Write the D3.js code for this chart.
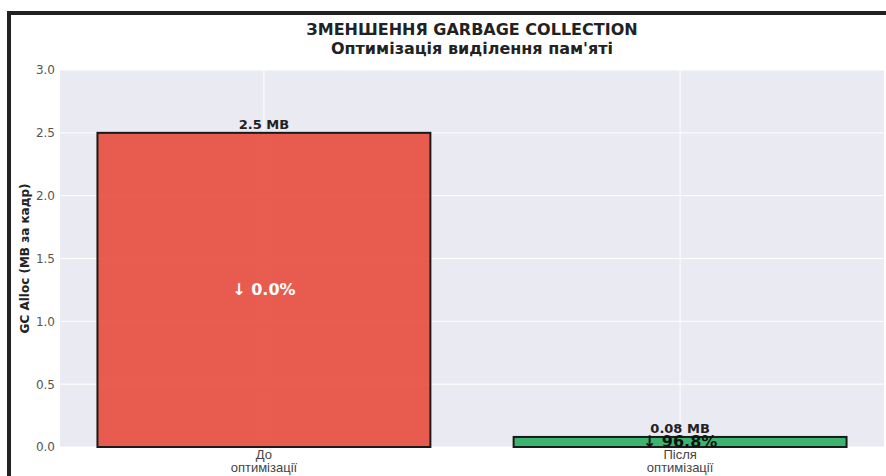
<!DOCTYPE html>
<html lang="uk">
<head>
  <meta charset="UTF-8" />
  <title>Зменшення Garbage Collection</title>
  <script src="https://d3js.org/d3.v7.min.js"></script>
  <style>
    html, body {
      margin: 0;
      padding: 0;
      background: #fff;
      overflow: hidden;
      font-family: "DejaVu Sans", sans-serif;
    }
  </style>
</head>
<body>
  <div id="chart"></div>

  <script>
    // ---- data ----
    const categories = ["До\nоптимізації", "Після\nоптимізації"];
    const gcAlloc = [2.5, 0.08];              // MB per frame
    const valueLabels = ["2.5 MB", "0.08 MB"];
    const reduction = ["↓ 0.0%", "↓ 96.8%"];
    const barColors = ["#e74c3c", "#27ae60"];
    const yTicks = [0, 0.5, 1.0, 1.5, 2.0, 2.5, 3.0];

    const width = 886, height = 476;
    const margin = { top: 70, right: 2, bottom: 29, left: 60 };
    const innerW = width - margin.left - margin.right;
    const innerH = height - margin.top - margin.bottom;

    const svg = d3.select("#chart")
      .append("svg")
      .attr("width", width)
      .attr("height", height);

    // figure frame (only top and left edge are visible in the crop)
    svg.append("path")
      .attr("d", "M9,480 L9,13 L890,13")
      .attr("fill", "none")
      .attr("stroke", "#222")
      .attr("stroke-width", 4);

    const g = svg.append("g")
      .attr("transform", `translate(${margin.left},${margin.top})`);

    const x = d3.scaleBand()
      .domain(categories)
      .range([0, innerW])
      .paddingInner(0.2)
      .paddingOuter(0.09);

    const y = d3.scaleLinear()
      .domain([0, 3.0])
      .range([innerH, 0]);

    // plot background
    g.append("rect")
      .attr("width", innerW)
      .attr("height", innerH)
      .attr("fill", "#eaeaf2");

    // grid lines
    g.selectAll(".hgrid")
      .data(yTicks)
      .enter()
      .append("line")
      .attr("x1", 0)
      .attr("x2", innerW)
      .attr("y1", d => y(d))
      .attr("y2", d => y(d))
      .attr("stroke", "#fff")
      .attr("stroke-width", 1);

    g.selectAll(".vgrid")
      .data(categories)
      .enter()
      .append("line")
      .attr("x1", d => x(d) + x.bandwidth() / 2)
      .attr("x2", d => x(d) + x.bandwidth() / 2)
      .attr("y1", 0)
      .attr("y2", innerH)
      .attr("stroke", "#fff")
      .attr("stroke-width", 1);

    // bars
    g.selectAll(".bar")
      .data(gcAlloc)
      .enter()
      .append("rect")
      .attr("x", (d, i) => x(categories[i]))
      .attr("y", d => y(d))
      .attr("width", x.bandwidth())
      .attr("height", d => innerH - y(d))
      .attr("fill", (d, i) => barColors[i])
      .attr("fill-opacity", 0.9)
      .attr("stroke", "#1a1a1a")
      .attr("stroke-width", 2);

    // value labels above bars
    g.selectAll(".vlabel")
      .data(gcAlloc)
      .enter()
      .append("text")
      .attr("x", (d, i) => x(categories[i]) + x.bandwidth() / 2)
      .attr("y", d => y(d) - 4)
      .attr("text-anchor", "middle")
      .attr("font-size", 13)
      .attr("font-weight", "bold")
      .attr("fill", "#222")
      .text((d, i) => valueLabels[i]);

    // reduction labels inside bars
    g.selectAll(".rlabel")
      .data(gcAlloc)
      .enter()
      .append("text")
      .attr("x", (d, i) => x(categories[i]) + x.bandwidth() / 2)
      .attr("y", d => y(d / 2))
      .attr("dy", "0.33em")
      .attr("text-anchor", "middle")
      .attr("font-size", 16)
      .attr("font-weight", "bold")
      .attr("fill", (d, i) => i === 0 ? "#fff" : "#111")
      .text((d, i) => reduction[i]);

    // y axis
    const yAxis = g.append("g")
      .call(d3.axisLeft(y).tickValues(yTicks).tickFormat(d3.format(".1f")).tickSize(0).tickPadding(5));
    yAxis.select(".domain").remove();
    yAxis.selectAll("text").attr("font-size", 12).attr("fill", "#555").attr("font-family", "DejaVu Sans");

    // x axis (two-line labels)
    const xAxis = g.append("g")
      .attr("transform", `translate(0,${innerH})`)
      .call(d3.axisBottom(x).tickSize(0).tickFormat(""));
    xAxis.select(".domain").remove();
    xAxis.selectAll(".tick").each(function (d) {
      const t = d3.select(this).append("text")
        .attr("text-anchor", "middle")
        .attr("font-size", 13)
        .attr("fill", "#444")
        .attr("y", 12);
      d.split("\n").forEach((line, i) => {
        t.append("tspan").attr("x", 0).attr("dy", i === 0 ? 0 : 13).text(line);
      });
    });

    // y axis title
    svg.append("text")
      .attr("transform", `translate(29,${margin.top + innerH / 2}) rotate(-90)`)
      .attr("text-anchor", "middle")
      .attr("font-size", 12)
      .attr("font-weight", "bold")
      .attr("fill", "#222")
      .text("GC Alloc (MB за кадр)");

    // titles
    const cx = margin.left + innerW / 2;
    svg.append("text")
      .attr("x", cx)
      .attr("y", 35)
      .attr("text-anchor", "middle")
      .attr("font-size", 16)
      .attr("font-weight", "bold")
      .attr("fill", "#222")
      .text("ЗМЕНШЕННЯ GARBAGE COLLECTION");
    svg.append("text")
      .attr("x", cx)
      .attr("y", 54)
      .attr("text-anchor", "middle")
      .attr("font-size", 16)
      .attr("font-weight", "bold")
      .attr("fill", "#222")
      .text("Оптимізація виділення пам'яті");
  </script>
</body>
</html>
